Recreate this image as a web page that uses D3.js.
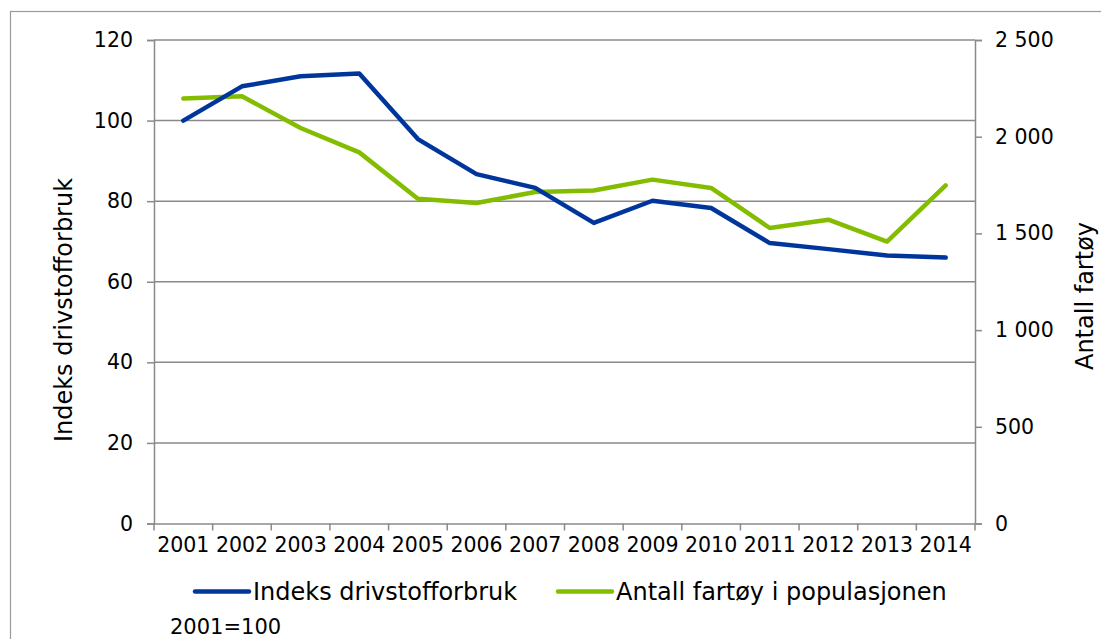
<!DOCTYPE html>
<html>
<head>
<meta charset="utf-8">
<script src="https://cdn.jsdelivr.net/npm/d3@7"></script>
<style>
  html, body { margin: 0; padding: 0; background: #fff; }
  svg { display: block; font-family: "DejaVu Sans", Verdana, sans-serif; }
</style>
</head>
<body>
<svg id="chart" width="1101" height="639"></svg>
<script>
const years = ["2001","2002","2003","2004","2005","2006","2007","2008","2009","2010","2011","2012","2013","2014"];
const indeksValues = [100, 108.5, 111.0, 111.7, 95.4, 86.7, 83.3, 74.6, 80.1, 78.3, 69.6, 68.1, 66.5, 66.0];
const fartoyValues = [2197, 2209, 2045, 1919, 1679, 1657, 1714, 1722, 1778, 1735, 1528, 1571, 1458, 1748];
const leftTicks = [0, 20, 40, 60, 80, 100, 120];
const rightTicks = [0, 500, 1000, 1500, 2000, 2500];
const seriesNames = ["Indeks drivstofforbruk", "Antall fartøy i populasjonen"];
const leftTitle = "Indeks drivstofforbruk";
const rightTitle = "Antall fartøy";
const note = "2001=100";

const svg = d3.select("#chart");
const W = 1101, H = 639;
const m = {left: 154, right: 975, top: 40, bottom: 523.5};
const gridColor = "#8a8a8a";
const blue = "#00369c", green = "#84bd00";

// outer border
svg.append("rect").attr("x", 10.5).attr("y", 11.5).attr("width", 1100).attr("height", 640)
  .attr("fill", "none").attr("stroke", "#9a9a9a").attr("stroke-width", 1.2);

const x = d3.scaleBand().domain(years).range([m.left, m.right]).padding(0);
const yL = d3.scaleLinear().domain([0, 120]).range([m.bottom, m.top]);
const yR = d3.scaleLinear().domain([0, 2500]).range([m.bottom, m.top]);

// gridlines
svg.append("g").selectAll("line").data(leftTicks.filter(d => d > 0)).join("line")
  .attr("x1", m.left).attr("x2", m.right)
  .attr("y1", d => yL(d)).attr("y2", d => yL(d))
  .attr("stroke", gridColor).attr("stroke-width", 1.5);

// left axis
const axL = svg.append("g").attr("transform", `translate(${m.left},0)`)
  .call(d3.axisLeft(yL).tickValues(leftTicks).tickSize(7).tickPadding(14).tickFormat(d3.format("d")));
axL.select(".domain").attr("stroke", gridColor).attr("stroke-width", 1.5);
axL.selectAll(".tick line").attr("stroke", gridColor).attr("stroke-width", 1.5);
axL.selectAll("text").attr("font-size", 20.5).attr("fill", "#000").attr("font-family", "DejaVu Sans");

// right axis
const fmtR = d => d3.format(",")(d).replace(/,/g, "\u00a0");
const axR = svg.append("g").attr("transform", `translate(${m.right},0)`)
  .call(d3.axisRight(yR).tickValues(rightTicks).tickSize(7).tickPadding(13).tickFormat(fmtR));
axR.select(".domain").attr("stroke", gridColor).attr("stroke-width", 1.5);
axR.selectAll(".tick line").attr("stroke", gridColor).attr("stroke-width", 1.5);
axR.selectAll("text").attr("font-size", 20.5).attr("fill", "#000").attr("font-family", "DejaVu Sans");

// bottom axis with ticks at category boundaries
const axB = svg.append("g").attr("transform", `translate(0,${m.bottom})`)
  .call(d3.axisBottom(x).tickSize(0).tickPadding(14));
axB.select(".domain").attr("stroke", gridColor).attr("stroke-width", 1.5);
axB.selectAll("text").attr("font-size", 20.5).attr("fill", "#000").attr("font-family", "DejaVu Sans");
const bounds = years.map(y => x(y)).concat([x(years[years.length-1]) + x.bandwidth()]);
svg.append("g").selectAll("line").data(bounds).join("line")
  .attr("x1", d => d).attr("x2", d => d)
  .attr("y1", m.bottom).attr("y2", m.bottom + 7)
  .attr("stroke", gridColor).attr("stroke-width", 1.5);

// lines
const cx = d => x(d) + x.bandwidth() / 2;
const lineL = d3.line().x((d, i) => cx(years[i])).y(d => yL(d));
const lineR = d3.line().x((d, i) => cx(years[i])).y(d => yR(d));
svg.append("path").datum(fartoyValues).attr("d", lineR)
  .attr("fill", "none").attr("stroke", green).attr("stroke-width", 4.5)
  .attr("stroke-linejoin", "round").attr("stroke-linecap", "round");
svg.append("path").datum(indeksValues).attr("d", lineL)
  .attr("fill", "none").attr("stroke", blue).attr("stroke-width", 4.5)
  .attr("stroke-linejoin", "round").attr("stroke-linecap", "round");

// axis titles
svg.append("text").attr("transform", "translate(72,310) rotate(-90)")
  .attr("text-anchor", "middle").attr("font-size", 24).text(leftTitle);
svg.append("text").attr("transform", "translate(1093,296) rotate(-90)")
  .attr("text-anchor", "middle").attr("font-size", 24).text(rightTitle);

// legend
const legend = [
  {name: seriesNames[0], color: blue, x: 195},
  {name: seriesNames[1], color: green, x: 558}
];
const lg = svg.append("g");
legend.forEach(l => {
  lg.append("line").attr("x1", l.x).attr("x2", l.x + 54).attr("y1", 591.5).attr("y2", 591.5)
    .attr("stroke", l.color).attr("stroke-width", 4.5).attr("stroke-linecap", "round");
  lg.append("text").attr("x", l.x + 58).attr("y", 599.5).attr("font-size", 24).text(l.name);
});

svg.append("text").attr("x", 170).attr("y", 634).attr("font-size", 21).text(note);
</script>
</body>
</html>
